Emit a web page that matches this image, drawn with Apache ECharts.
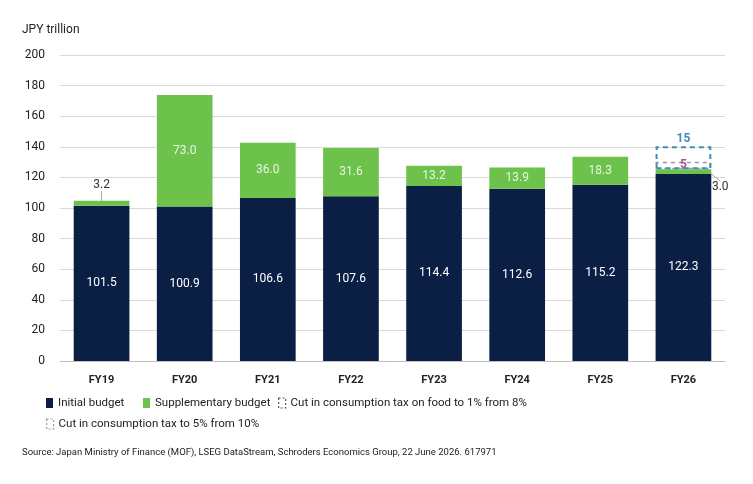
<!DOCTYPE html>
<html>
<head>
<meta charset="utf-8">
<script src="https://cdn.jsdelivr.net/npm/echarts@6/dist/echarts.min.js"></script>
<style>
  html, body { margin: 0; padding: 0; background: #fff; }
  #chart { width: 753px; height: 484px; }
</style>
</head>
<body>
<div id="chart"></div>
<script>
const years = ['FY19', 'FY20', 'FY21', 'FY22', 'FY23', 'FY24', 'FY25', 'FY26'];
const initialBudget = [101.5, 100.9, 106.6, 107.6, 114.4, 112.6, 115.2, 122.3];
const supplementary = [3.2, 73.0, 36.0, 31.6, 13.2, 13.9, 18.3, 3.0];
const foodTaxCut = [null, null, null, null, null, null, null, 5];
const taxCut = [null, null, null, null, null, null, null, 15];
const yTicks = [0, 20, 40, 60, 80, 100, 120, 140, 160, 180, 200];

const NAVY = '#0b1f45';
const GREEN = '#6cc24a';
const FONT = 'Roboto, "Open Sans", sans-serif';
const BAR_W = '67%';

// base under the 15trn box so it sits on top of initial + supplementary
const taxCutBase = years.map((_, i) => taxCut[i] == null ? null : +(initialBudget[i] + supplementary[i]).toFixed(1));

// small supplementary values get a dark label outside the bar
const suppData = supplementary.map((v, i) => {
  if (v < 5) return { value: v, label: { color: '#333' } };
  return v;
});

const chart = echarts.init(document.getElementById('chart'));

const legendText = { color: '#222', fontSize: 11.5, fontFamily: FONT };
const legendBase = { itemWidth: 7, itemHeight: 10, itemGap: 4, icon: 'rect', textStyle: legendText, padding: 0 };

chart.setOption({
  animation: false,
  backgroundColor: '#fff',
  textStyle: { fontFamily: FONT },
  grid: { left: 60, right: 28, top: 55, bottom: 123 },
  graphic: [
    { type: 'text', left: 22, top: 24, style: { text: 'JPY trillion', fontSize: 12, fill: '#222', fontFamily: FONT } },
    { type: 'text', left: 22, top: 448, style: { text: 'Source: Japan Ministry of Finance (MOF), LSEG DataStream, Schroders Economics Group, 22 June 2026. 617971', fontSize: 9.5, fill: '#222', fontFamily: FONT } }
  ],
  legend: [
    Object.assign({ data: ['Initial budget'], left: 46, top: 397 }, legendBase),
    Object.assign({ data: ['Supplementary budget'], left: 143, top: 397 }, legendBase),
    Object.assign({}, legendBase, {
      data: [{ name: 'Cut in consumption tax on food to 1% from 8%', itemStyle: { borderColor: '#555', borderType: [2, 2], borderWidth: 1.2 } }],
      left: 278, top: 397
    }),
    Object.assign({}, legendBase, {
      data: [{ name: 'Cut in consumption tax to 5% from 10%', itemStyle: { borderColor: '#999', borderType: [2, 2], borderWidth: 1.2 } }],
      left: 46, top: 418
    })
  ],
  xAxis: {
    type: 'category',
    data: years,
    axisLine: { show: true, lineStyle: { color: '#bfbfbf' } },
    axisTick: { show: false },
    axisLabel: { color: '#222', fontSize: 11, fontWeight: 'bold', margin: 14, fontFamily: FONT }
  },
  yAxis: {
    type: 'value',
    min: yTicks[0],
    max: yTicks[yTicks.length - 1],
    interval: yTicks[1] - yTicks[0],
    axisLine: { show: false },
    axisTick: { show: false },
    axisLabel: { color: '#222', fontSize: 12, margin: 15, fontFamily: FONT },
    splitLine: { lineStyle: { color: '#d9d9d9' } }
  },
  series: [
    {
      name: 'Initial budget',
      type: 'bar',
      stack: 'budget',
      barWidth: BAR_W,
      barGap: '-100%',
      data: initialBudget,
      itemStyle: { color: NAVY },
      label: { show: true, position: 'inside', color: '#fff', fontSize: 12, fontFamily: FONT, formatter: p => p.value.toFixed(1) }
    },
    {
      name: 'Supplementary budget',
      type: 'bar',
      stack: 'budget',
      barWidth: BAR_W,
      barGap: '-100%',
      data: suppData,
      itemStyle: { color: GREEN },
      label: {
        show: true,
        color: 'rgba(255,255,255,0.85)',
        fontSize: 12,
        fontFamily: FONT,
        formatter: p => p.value.toFixed(1),
        position: 'inside'
      },
      labelLayout: p => {
        if (p.dataIndex === 0) return { x: p.rect.x + p.rect.width / 2, y: p.rect.y - 16, align: 'center', verticalAlign: 'middle' };
        if (p.dataIndex === 7) return { x: p.rect.x + p.rect.width + 9, y: p.rect.y + 18, align: 'center', verticalAlign: 'middle' };
        return {};
      },
      labelLine: { show: true, lineStyle: { color: '#aaa', width: 1 } }
    },
    {
      name: 'Cut in consumption tax on food to 1% from 8%',
      type: 'bar',
      stack: 'budget',
      barWidth: BAR_W,
      barGap: '-100%',
      data: foodTaxCut,
      itemStyle: { color: 'rgba(255,255,255,0)', borderColor: '#9a9a9a', borderWidth: 1.5, borderType: [4, 4] },
      label: { show: true, position: 'inside', color: '#b0508a', fontSize: 12, fontWeight: 'bold', fontFamily: FONT }
    },
    {
      name: 'taxBase',
      type: 'bar',
      stack: 'cut',
      barWidth: BAR_W,
      barGap: '-100%',
      data: taxCutBase,
      itemStyle: { color: 'rgba(0,0,0,0)' },
      silent: true
    },
    {
      name: 'Cut in consumption tax to 5% from 10%',
      type: 'bar',
      stack: 'cut',
      barWidth: BAR_W,
      barGap: '-100%',
      data: taxCut,
      itemStyle: { color: 'rgba(255,255,255,0)', borderColor: '#3a8fb7', borderWidth: 2, borderType: [5, 4] },
      label: { show: true, position: 'top', distance: 1, color: '#3a8fb7', fontSize: 12, fontWeight: 'bold', fontFamily: FONT }
    }
  ]
});
</script>
</body>
</html>
